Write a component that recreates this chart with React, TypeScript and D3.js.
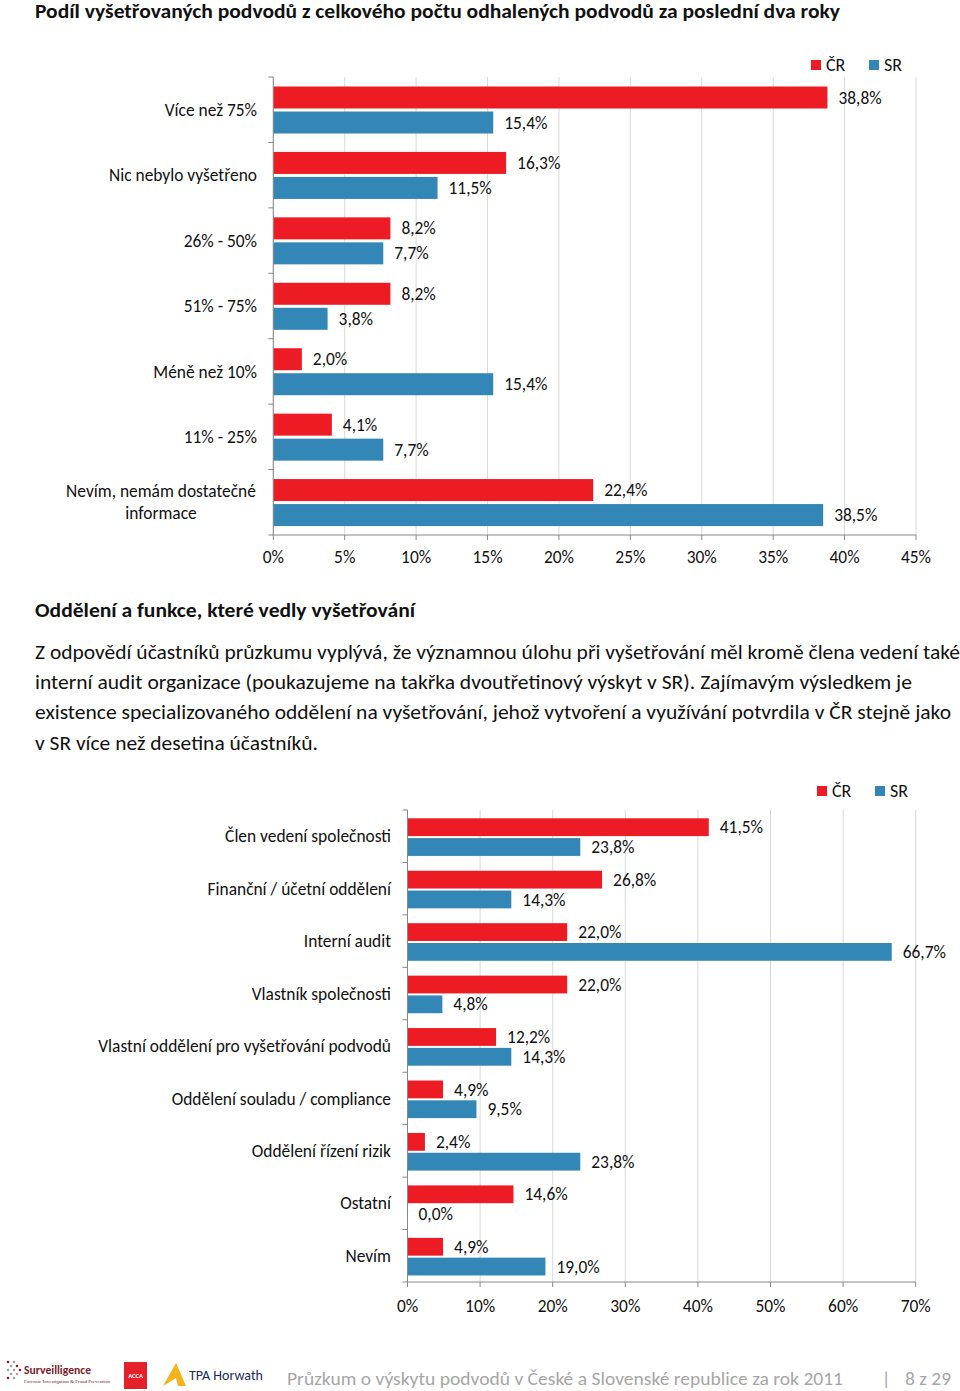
import React from "react";
import * as d3 from "d3";

const FONT = "Carlito, Lato, 'Open Sans', sans-serif";
const RED = "#ED1C24";
const BLUE = "#3387B6";

const cats1 = ["Více než 75%", "Nic nebylo vyšetřeno", "26% - 50%", "51% - 75%", "Méně než 10%", "11% - 25%", "Nevím, nemám dostatečné|informace"];
const cr1 = [38.8, 16.3, 8.2, 8.2, 2.0, 4.1, 22.4];
const sr1 = [15.4, 11.5, 7.7, 3.8, 15.4, 7.7, 38.5];
const ticks1 = [0, 5, 10, 15, 20, 25, 30, 35, 40, 45];

const cats2 = ["Člen vedení společnosti", "Finanční / účetní oddělení", "Interní audit", "Vlastník společnosti", "Vlastní oddělení pro vyšetřování podvodů", "Oddělení souladu / compliance", "Oddělení řízení rizik", "Ostatní", "Nevím"];
const cr2 = [41.5, 26.8, 22.0, 22.0, 12.2, 4.9, 2.4, 14.6, 4.9];
const sr2 = [23.8, 14.3, 66.7, 4.8, 14.3, 9.5, 23.8, 0.0, 19.0];
const ticks2 = [0, 10, 20, 30, 40, 50, 60, 70];

const title = "Podíl vyšetřovaných podvodů z celkového počtu odhalených podvodů za poslední dva roky";
const heading = "Oddělení a funkce, které vedly vyšetřování";
const paragraph = [
  { t: "Z odpovědí účastníků průzkumu vyplývá, že významnou úlohu při vyšetřování měl kromě člena vedení také", w: 925 },
  { t: "interní audit organizace (poukazujeme na takřka dvoutřetinový výskyt v SR). Zajímavým výsledkem je", w: 877 },
  { t: "existence specializovaného oddělení na vyšetřování, jehož vytvoření a využívání potvrdila v ČR stejně jako", w: 916 },
  { t: "v SR více než desetina účastníků.", w: 283 },
];
const footerText = "Průzkum o výskytu podvodů v České a Slovenské republice za rok 2011";
const pageText = "8 z 29";

const fmt = (v: number) => d3.format(".1f")(v).replace(".", ",") + "%";

type ChartProps = {
  cats: string[]; cr: number[]; sr: number[]; ticks: number[];
  x0: number; x1: number; y0: number; y1: number; tickLabelOff: number;
  barH: number; off: number; gap: number; labelX: number; legendX: number; legendY: number;
};

function BarChart(p: ChartProps) {
  const x = d3.scaleLinear().domain([p.ticks[0], p.ticks[p.ticks.length - 1]]).range([p.x0, p.x1]);
  const y = d3.scaleBand<string>().domain(p.cats).range([p.y0, p.y1]);
  const bw = y.bandwidth();
  const bounds = p.cats.map((c) => y(c) as number).concat([p.y1]);
  return (
    <g fontFamily={FONT} fontSize={17.4} fill="#111">
      {p.ticks.map((t) => (
        <line key={"g" + t} x1={x(t)} x2={x(t)} y1={p.y0} y2={p.y1} stroke="#D9D9D9" strokeWidth={1} />
      ))}
      {p.cats.map((c, i) => {
        const yy = y(c) as number;
        const ry = yy + p.off;
        const by = ry + p.barH + p.gap;
        return (
          <g key={c}>
            <rect x={x(0)} y={ry} width={x(p.cr[i]) - x(0)} height={p.barH} fill={RED} />
            <rect x={x(0)} y={by} width={x(p.sr[i]) - x(0)} height={p.barH} fill={BLUE} />
            <text x={x(p.cr[i]) + 11} y={ry + p.barH / 2} dy="0.35em">{fmt(p.cr[i])}</text>
            <text x={x(p.sr[i]) + 11} y={by + p.barH / 2} dy="0.35em">{fmt(p.sr[i])}</text>
            {c.includes("|") ? (
              <text y={yy + bw / 2} textAnchor="middle">
                {c.split("|").map((s, k) => (
                  <tspan key={k} x={p.labelX - 96} dy={k === 0 ? "-0.3em" : "1.27em"}>{s}</tspan>
                ))}
              </text>
            ) : (
              <text x={p.labelX} y={yy + bw / 2} dy="0.35em" textAnchor="end">{c}</text>
            )}
          </g>
        );
      })}
      <line x1={p.x0} x2={p.x0} y1={p.y0} y2={p.y1} stroke="#888" />
      {bounds.map((b, i) => (
        <line key={"lt" + i} x1={p.x0 - 5} x2={p.x0} y1={b} y2={b} stroke="#888" />
      ))}
      <line x1={p.x0} x2={p.x1} y1={p.y1} y2={p.y1} stroke="#888" />
      {p.ticks.map((t) => (
        <g key={"t" + t}>
          <line x1={x(t)} x2={x(t)} y1={p.y1} y2={p.y1 + 5} stroke="#888" />
          <text x={x(t)} y={p.y1 + p.tickLabelOff} dy="0.35em" textAnchor="middle">{t + "%"}</text>
        </g>
      ))}
      <rect x={p.legendX} y={p.legendY - 5} width={10} height={10} fill={RED} />
      <text x={p.legendX + 15} y={p.legendY} dy="0.35em" fontSize={18}>ČR</text>
      <rect x={p.legendX + 58} y={p.legendY - 5} width={10} height={10} fill={BLUE} />
      <text x={p.legendX + 73} y={p.legendY} dy="0.35em" fontSize={18}>SR</text>
    </g>
  );
}

export default function App() {
  return (
    <svg width={960} height={1391} style={{ position: "absolute", left: 0, top: 0, background: "#fff" }}>
      <rect width={960} height={1391} fill="#fff" />
      <text x={35} y={18} fontFamily={FONT} fontWeight="bold" fontSize={20} fill="#111" textLength={805} lengthAdjust="spacingAndGlyphs">{title}</text>
      <BarChart cats={cats1} cr={cr1} sr={sr1} ticks={ticks1} x0={273.3} x1={916} y0={77} y1={535} tickLabelOff={22}
        barH={22} off={9.5} gap={3} labelX={257} legendX={811} legendY={65} />
      <text x={35} y={617} fontFamily={FONT} fontWeight="bold" fontSize={20} fill="#111" textLength={380} lengthAdjust="spacingAndGlyphs">{heading}</text>
      {paragraph.map((l, i) => (
        <text key={i} x={35} y={659 + i * 30.2} fontFamily={FONT} fontSize={20} fill="#111" textLength={l.w} lengthAdjust="spacingAndGlyphs">{l.t}</text>
      ))}
      <BarChart cats={cats2} cr={cr2} sr={sr2} ticks={ticks2} x0={407.5} x1={915.7} y0={810} y1={1282} tickLabelOff={24}
        barH={17.8} off={8.3} gap={2} labelX={391} legendX={817} legendY={791} />
      {/* footer logos */}
      <g>
        {[[8, 1362], [14, 1362], [11, 1366], [17, 1366], [8, 1370], [14, 1370], [20, 1370], [11, 1374], [17, 1374], [8, 1378], [14, 1378]].map((d, i) => (
          <circle key={i} cx={d[0]} cy={d[1]} r={1.3} fill={i % 3 === 0 ? "#8a1c2b" : "#a0a0a0"} />
        ))}
        <text x={24} y={1374} fontFamily={FONT} fontWeight="bold" fontSize={12.5} fill="#7a1a2a" textLength={67} lengthAdjust="spacingAndGlyphs">Surveilligence</text>
        <text x={24} y={1383} fontFamily="serif" fontSize={4.5} fill="#7a1a2a" textLength={86} lengthAdjust="spacingAndGlyphs">Forensic Investigation &amp; Fraud Prevention</text>
        <rect x={124} y={1362} width={23} height={27} fill="#E4202A" />
        <text x={135.5} y={1378} fontFamily={FONT} fontWeight="bold" fontSize={6.5} fill="#fff" textAnchor="middle">ACCA</text>
        <path d="M163,1386 L176,1363 L186,1386 L178,1386 L176,1378 Z" fill="#F5B21B" />
        <text x={189} y={1380} fontFamily={FONT} fontSize={14.5} fill="#1d2a5b" textLength={74} lengthAdjust="spacingAndGlyphs">TPA Horwath</text>
      </g>
      <text x={287} y={1385} fontFamily={FONT} fontSize={19} fill="#A6A6A6" textLength={556} lengthAdjust="spacingAndGlyphs">{footerText}</text>
      <text x={886} y={1385} fontFamily={FONT} fontSize={19} fill="#A6A6A6" textAnchor="middle">|</text>
      <text x={905} y={1385} fontFamily={FONT} fontSize={19} fill="#A6A6A6" textLength={46} lengthAdjust="spacingAndGlyphs">{pageText}</text>
    </svg>
  );
}
